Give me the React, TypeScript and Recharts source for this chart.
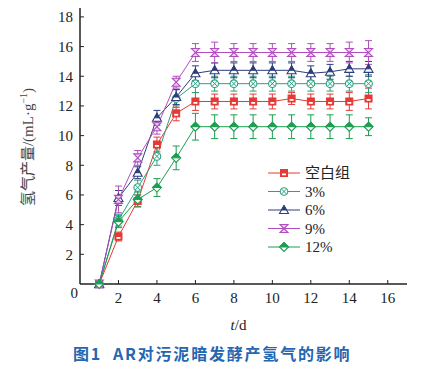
import React from "react";
import { LineChart, Line, XAxis, YAxis, ErrorBar } from "recharts";

const days = [1, 2, 3, 4, 5, 6, 7, 8, 9, 10, 11, 12, 13, 14, 15];
const blank = [0, 3.2, 5.6, 9.4, 11.5, 12.3, 12.3, 12.3, 12.3, 12.3, 12.5, 12.3, 12.3, 12.3, 12.5];
const blankErr = [0, 0.3, 0.4, 0.5, 0.5, 0.6, 0.5, 0.5, 0.5, 0.5, 0.4, 0.5, 0.5, 0.6, 0.7];
const p3 = [0, 4.3, 6.5, 8.6, 12.5, 13.5, 13.5, 13.5, 13.5, 13.5, 13.5, 13.5, 13.5, 13.5, 13.5];
const p3Err = [0, 0.4, 0.5, 0.6, 0.6, 0.6, 0.5, 0.5, 0.5, 0.5, 0.5, 0.5, 0.5, 0.5, 0.6];
const p6 = [0, 5.8, 7.5, 11.2, 12.6, 14.2, 14.4, 14.4, 14.4, 14.4, 14.4, 14.2, 14.3, 14.5, 14.5];
const p6Err = [0, 0.5, 0.4, 0.5, 0.5, 0.5, 0.5, 0.5, 0.5, 0.5, 0.5, 0.5, 0.5, 0.5, 0.5];
const p9 = [0, 5.7, 8.5, 10.6, 13.6, 15.6, 15.6, 15.6, 15.6, 15.6, 15.6, 15.6, 15.6, 15.6, 15.6];
const p9Err = [0, 0.9, 0.5, 0.5, 0.4, 0.6, 0.7, 0.6, 0.6, 0.6, 0.6, 0.6, 0.6, 0.7, 0.8];
const p12 = [0, 4.2, 5.7, 6.5, 8.5, 10.6, 10.6, 10.6, 10.6, 10.6, 10.6, 10.6, 10.6, 10.6, 10.6];
const p12Err = [0, 0.4, 0.5, 0.6, 0.8, 0.9, 0.8, 0.8, 0.8, 0.8, 0.8, 0.8, 0.8, 0.8, 0.6];

const xTicks = [2, 4, 6, 8, 10, 12, 14, 16];
const yTicks = [0, 2, 4, 6, 8, 10, 12, 14, 16, 18];

const data = days.map((d, i) => ({
  day: d,
  blank: blank[i], blankErr: blankErr[i],
  p3: p3[i], p3Err: p3Err[i],
  p6: p6[i], p6Err: p6Err[i],
  p9: p9[i], p9Err: p9Err[i],
  p12: p12[i], p12Err: p12Err[i],
}));

const series = [
  { key: "blank", name: "空白组", color: "#e53935", shape: "square" },
  { key: "p3", name: "3%", color: "#27a37c", shape: "circle" },
  { key: "p6", name: "6%", color: "#2e3d7c", shape: "triangle" },
  { key: "p9", name: "9%", color: "#b04dbf", shape: "hourglass" },
  { key: "p12", name: "12%", color: "#1b9e50", shape: "diamond" },
];

const serif = "'Liberation Serif', 'Times New Roman', serif";
const cjk = "'Noto Sans CJK SC', sans-serif";

function Marker({ cx, cy, shape, color }: { cx: number; cy: number; shape: string; color: string }) {
  const s = 3.5;
  if (shape === "square") {
    return (
      <g>
        <rect x={cx - s} y={cy - s} width={2 * s} height={2 * s} fill={color} stroke={color} strokeWidth={1} />
        <rect x={cx - s + 1.5} y={cy + 0.5} width={2 * s - 3} height={1.8} fill="#fff" />
      </g>
    );
  }
  if (shape === "circle") {
    return (
      <g>
        <circle cx={cx} cy={cy} r={3.8} fill="#fff" stroke={color} strokeWidth={1.1} />
        <path d={`M${cx - 2.6},${cy - 2.6}L${cx + 2.6},${cy + 2.6}M${cx - 2.6},${cy + 2.6}L${cx + 2.6},${cy - 2.6}`} stroke={color} strokeWidth={1} />
      </g>
    );
  }
  if (shape === "triangle") {
    return (
      <g>
        <path d={`M${cx},${cy - 4.5}L${cx + 4.5},${cy + 3.5}L${cx - 4.5},${cy + 3.5}Z`} fill="#fff" stroke={color} strokeWidth={1.1} />
        <path d={`M${cx},${cy - 4.5}L${cx + 2.5},${cy}L${cx - 2.5},${cy}Z`} fill={color} stroke={color} strokeWidth={1} />
      </g>
    );
  }
  if (shape === "hourglass") {
    return (
      <path
        d={`M${cx - 4},${cy - 4}L${cx + 4},${cy - 4}L${cx - 4},${cy + 4}L${cx + 4},${cy + 4}Z`}
        fill="#ecd0f1"
        stroke={color}
        strokeWidth={1.1}
      />
    );
  }
  return (
    <g>
      <path d={`M${cx},${cy - 4.5}L${cx + 4.5},${cy}L${cx},${cy + 4.5}L${cx - 4.5},${cy}Z`} fill="#fff" stroke={color} strokeWidth={1.1} />
      <path d={`M${cx},${cy - 4.5}L${cx + 4.5},${cy}L${cx - 4.5},${cy}Z`} fill={color} stroke={color} strokeWidth={1} />
    </g>
  );
}

function XTick({ x, y, payload }: any) {
  return (
    <g>
      <line x1={x} y1={y} x2={x} y2={y - 4} stroke="#222" strokeWidth={1} />
      <text x={x} y={y + 14} dy="0.35em" textAnchor="middle" fontSize={15} fontFamily={serif} fill="#222">
        {payload.value}
      </text>
    </g>
  );
}

function YTick({ x, y, payload }: any) {
  if (payload.value === 0) {
    return (
      <text x={x - 2} y={y + 9} dy="0.35em" textAnchor="end" fontSize={15} fontFamily={serif} fill="#222">
        0
      </text>
    );
  }
  return (
    <g>
      <line x1={x} y1={y} x2={x + 4} y2={y} stroke="#222" strokeWidth={1} />
      <text x={x - 7} y={y} dy="0.35em" textAnchor="end" fontSize={15} fontFamily={serif} fill="#222">
        {payload.value}
      </text>
    </g>
  );
}

function LegendBox() {
  return (
    <svg width={140} height={110} style={{ position: "absolute", left: 262, top: 158, overflow: "visible" }}>
      {series.map((s, i) => {
        const y = 15 + i * 18.5;
        return (
          <g key={s.key}>
            <line x1={6} x2={38} y1={y} y2={y} stroke={s.color} strokeWidth={1} />
            <Marker cx={22} cy={y} shape={s.shape} color={s.color} />
            <text x={43} y={y} dy="0.35em" fontSize={15} fill="#222" fontFamily={i === 0 ? cjk : serif}>
              {s.name}
            </text>
          </g>
        );
      })}
    </svg>
  );
}

export default function App() {
  return (
    <div style={{ position: "absolute", left: 0, top: 0, width: 431, height: 368, background: "#fff" }}>
      <LineChart width={431} height={368} data={data} margin={{ top: 8, right: 24, left: 0, bottom: 0 }}>
        <XAxis
          dataKey="day"
          type="number"
          domain={[0, 17]}
          ticks={xTicks}
          interval={0}
          tickLine={false}
          tickSize={0}
          tickMargin={0}
          tick={<XTick />}
          height={84}
          stroke="#222"
          strokeWidth={1.5}
          label={({ viewBox }: any) => (
            <text x={viewBox.x + viewBox.width / 2 - 5} y={viewBox.y + 41} dy="0.35em" textAnchor="middle" fontSize={15} fontFamily={serif} fill="#222">
              <tspan fontStyle="italic">t</tspan>/d
            </text>
          )}
        />
        <YAxis
          type="number"
          domain={[0, 18.6]}
          ticks={yTicks}
          interval={0}
          tickLine={false}
          tickSize={0}
          tickMargin={0}
          tick={<YTick />}
          width={80}
          stroke="#222"
          strokeWidth={1.5}
          label={() => (
            <text transform="translate(28,147) rotate(-90)" textAnchor="middle" dy="0.35em" fontSize={15} fill="#444">
              <tspan fontFamily={cjk}>氢气产量</tspan>
              <tspan fontFamily={serif}>/(mL·g</tspan>
              <tspan fontFamily={serif} fontSize={10} dy="-6">−1</tspan>
              <tspan fontFamily={serif} dy="6">)</tspan>
            </text>
          )}
        />
        {series.map((s) => (
          <Line
            key={s.key}
            dataKey={s.key}
            name={s.name}
            type="linear"
            stroke={s.color}
            strokeWidth={1}
            isAnimationActive={false}
            dot={(p: any) => <Marker key={`${s.key}-${p.index}`} cx={p.cx} cy={p.cy} shape={s.shape} color={s.color} />}
          >
            <ErrorBar dataKey={`${s.key}Err`} direction="y" width={3.5} stroke={s.color} strokeWidth={1} />
          </Line>
        ))}
      </LineChart>
      <LegendBox />
      <div
        style={{
          position: "absolute",
          left: 73,
          top: 342,
          fontFamily: cjk,
          fontWeight: 700,
          fontSize: 16,
          lineHeight: "22px",
          color: "#2566b0",
          whiteSpace: "pre",
          letterSpacing: 1.8,
        }}
      >
        <span>图1</span>
        <span style={{ position: "absolute", left: 40, top: 0 }}>AR对污泥暗发酵产氢气的影响</span>
      </div>
    </div>
  );
}
